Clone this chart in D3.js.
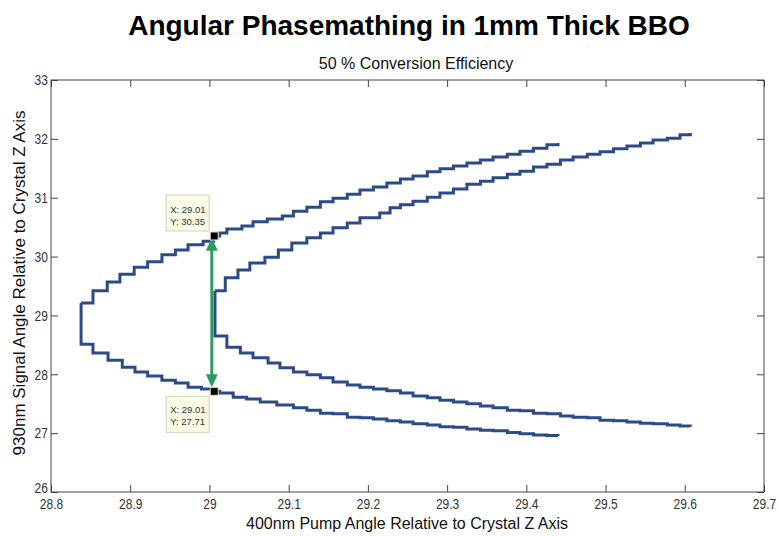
<!DOCTYPE html>
<html lang="en">
<meta charset="utf-8">
<style>
    html, body {
        margin: 0;
        padding: 0;
        background: #fff;
    }
    svg text {
        font-family: "Liberation Sans", Arial, sans-serif;
    }
    .tick-lbl text {
        font-family: "Liberation Sans", Arial, sans-serif;
        font-size: 15px;
        fill: #333;
    }
    .contour {
        fill: none;
        stroke: #2c4a88;
        stroke-width: 3px;
    }
</style>
<body>
<svg id="svg" width="780" height="536"></svg>
<script src="https://cdn.jsdelivr.net/npm/d3@7"></script>
<script>
    // tick labels
    var xTicks = [28.8, 28.9, 29, 29.1, 29.2, 29.3, 29.4, 29.5, 29.6, 29.7];
    var yTicks = [26, 27, 28, 29, 30, 31, 32, 33];

    // outer contour, upper branch (x, y)
    var outerUpper = [
        [28.838, 29.21], [28.853, 29.42], [28.871, 29.57], [28.887, 29.70], [28.905, 29.82],
        [28.922, 29.91], [28.940, 30.03], [28.957, 30.11], [28.973, 30.20], [28.992, 30.26],
        [29.005, 30.35], [29.013, 30.40], [29.022, 30.47], [29.041, 30.52], [29.055, 30.59],
        [29.073, 30.64], [29.092, 30.69], [29.106, 30.77], [29.123, 30.84], [29.140, 30.93],
        [29.156, 30.99], [29.174, 31.06], [29.190, 31.13], [29.207, 31.18], [29.224, 31.25],
        [29.241, 31.32], [29.257, 31.37], [29.275, 31.44], [29.291, 31.49], [29.308, 31.54],
        [29.325, 31.59], [29.342, 31.64], [29.358, 31.69], [29.376, 31.74], [29.392, 31.79],
        [29.409, 31.84], [29.426, 31.90], [29.440, 31.93]
    ];
    // outer contour, vertex + lower branch
    var outerLower = [
        [28.838, 29.21], [28.838, 28.51], [28.853, 28.36], [28.872, 28.24], [28.890, 28.12],
        [28.906, 28.04], [28.922, 27.97], [28.940, 27.90], [28.957, 27.85], [28.973, 27.78],
        [28.990, 27.75], [29.005, 27.71], [29.013, 27.68], [29.030, 27.61], [29.047, 27.58],
        [29.064, 27.53], [29.085, 27.48], [29.106, 27.43], [29.123, 27.39], [29.140, 27.34],
        [29.156, 27.33], [29.174, 27.27], [29.190, 27.26], [29.207, 27.24], [29.224, 27.21],
        [29.241, 27.19], [29.257, 27.16], [29.275, 27.14], [29.291, 27.11], [29.308, 27.10],
        [29.325, 27.07], [29.342, 27.05], [29.358, 27.04], [29.376, 27.01], [29.392, 26.99],
        [29.409, 26.97], [29.426, 26.96], [29.440, 26.95]
    ];
    // inner contour, upper branch
    var innerUpper = [
        [29.007, 29.42], [29.020, 29.64], [29.036, 29.77], [29.051, 29.89], [29.070, 29.99],
        [29.087, 30.11], [29.104, 30.23], [29.123, 30.32], [29.140, 30.40], [29.156, 30.49],
        [29.174, 30.57], [29.190, 30.66], [29.215, 30.74], [29.228, 30.83], [29.241, 30.88],
        [29.257, 30.94], [29.275, 31.01], [29.291, 31.08], [29.308, 31.15], [29.325, 31.23],
        [29.342, 31.28], [29.358, 31.34], [29.376, 31.40], [29.392, 31.45], [29.409, 31.52],
        [29.426, 31.57], [29.443, 31.64], [29.459, 31.69], [29.477, 31.74], [29.493, 31.78],
        [29.510, 31.83], [29.527, 31.88], [29.544, 31.93], [29.560, 31.98], [29.578, 32.01],
        [29.594, 32.07], [29.607, 32.10]
    ];
    // inner contour, vertex + lower branch
    var innerLower = [
        [29.007, 29.42], [29.007, 28.65], [29.022, 28.46], [29.039, 28.36], [29.055, 28.28],
        [29.074, 28.19], [29.089, 28.11], [29.106, 28.04], [29.123, 27.99], [29.140, 27.94],
        [29.156, 27.87], [29.174, 27.82], [29.190, 27.78], [29.207, 27.75], [29.224, 27.72],
        [29.241, 27.68], [29.257, 27.63], [29.275, 27.60], [29.291, 27.56], [29.308, 27.53],
        [29.325, 27.50], [29.342, 27.46], [29.358, 27.43], [29.376, 27.39], [29.392, 27.38],
        [29.409, 27.34], [29.426, 27.33], [29.443, 27.29], [29.459, 27.27], [29.477, 27.26],
        [29.493, 27.22], [29.510, 27.21], [29.527, 27.19], [29.544, 27.17], [29.560, 27.16],
        [29.578, 27.14], [29.594, 27.12], [29.607, 27.11]
    ];

    // data tips and the green double arrow
    var tips = [
        {x: 29.006, y: 30.35, above: true},
        {x: 29.006, y: 27.71, above: false}
    ];
    var arrowX = 29.003, arrowTop = 30.32, arrowBottom = 27.78;

    var svg = d3.select("svg"),
        margin = {top: 80, right: 16, bottom: 44, left: 51},
        width = +svg.attr("width") - margin.left - margin.right,
        height = +svg.attr("height") - margin.top - margin.bottom;

    var x = d3.scaleLinear().domain([28.8, 29.7]).range([margin.left, margin.left + width]);
    var y = d3.scaleLinear().domain([26, 33]).range([margin.top + height, margin.top]);

    var fmt = d => String(+d.toFixed(1));

    // box frame
    svg.append("rect")
        .attr("x", x(28.8)).attr("y", y(33))
        .attr("width", x(29.7) - x(28.8)).attr("height", y(26) - y(33))
        .attr("fill", "none").attr("stroke", "#444").attr("stroke-width", 1);

    svg.append("g")
        .attr("class", "tick-lbl")
        .attr("transform", `translate(0,${y(26)})`)
        .call(d3.axisBottom(x).tickValues(xTicks).tickFormat(fmt).tickSizeInner(-7).tickSizeOuter(0).tickPadding(6))
        .call(g => g.select(".domain").remove())
        .call(g => g.selectAll(".tick line").attr("stroke", "#444"))
        .call(g => g.selectAll(".tick text").attr("transform", "scale(0.8,1)"));

    svg.append("g")
        .attr("transform", `translate(0,${y(33)})`)
        .call(d3.axisTop(x).tickValues(xTicks).tickFormat("").tickSizeInner(-7).tickSizeOuter(0))
        .call(g => g.select(".domain").remove())
        .call(g => g.selectAll(".tick line").attr("stroke", "#444"));

    svg.append("g")
        .attr("class", "tick-lbl")
        .attr("transform", `translate(${x(28.8)},0)`)
        .call(d3.axisLeft(y).tickValues(yTicks).tickFormat(fmt).tickSizeInner(-7).tickSizeOuter(0).tickPadding(4))
        .call(g => g.select(".domain").remove())
        .call(g => g.selectAll(".tick line").attr("stroke", "#444"))
        .call(g => g.selectAll(".tick text").attr("transform", "scale(0.8,1)"))
        .call(g => g.selectAll(".tick").filter(d => d === 26).select("text").attr("y", -4));

    svg.append("g")
        .attr("transform", `translate(${x(29.7)},0)`)
        .call(d3.axisRight(y).tickValues(yTicks).tickFormat("").tickSizeInner(-7).tickSizeOuter(0))
        .call(g => g.select(".domain").remove())
        .call(g => g.selectAll(".tick line").attr("stroke", "#444"));

    // contour lines (stair-stepped)
    var line = d3.line()
        .x(d => x(d[0]))
        .y(d => y(d[1]))
        .curve(d3.curveStepAfter);

    svg.append("g")
        .selectAll("path")
        .data([outerUpper, outerLower, innerUpper, innerLower])
        .enter().append("path")
            .attr("class", "contour")
            .attr("d", line);

    // green double arrow
    var green = "#2f9a5f";
    var ax = x(arrowX), ay1 = y(arrowTop), ay2 = y(arrowBottom);
    svg.append("line")
        .attr("x1", ax).attr("x2", ax)
        .attr("y1", ay1 + 10).attr("y2", ay2 - 10)
        .attr("stroke", green).attr("stroke-width", 3);
    svg.append("path")
        .attr("d", `M${ax},${ay1} L${ax - 6},${ay1 + 13} L${ax + 6},${ay1 + 13} Z`)
        .attr("fill", green);
    svg.append("path")
        .attr("d", `M${ax},${ay2} L${ax - 6},${ay2 - 13} L${ax + 6},${ay2 - 13} Z`)
        .attr("fill", green);

    // data tips
    var f2 = d3.format(".2f");
    var tip = svg.append("g").selectAll("g").data(tips).enter().append("g")
        .attr("transform", d => `translate(${x(d.x)},${y(d.y)})`);

    tip.append("rect")
        .attr("x", -48)
        .attr("y", d => d.above ? -41 : 5)
        .attr("width", 43).attr("height", 36)
        .attr("fill", "#fbfbe6").attr("stroke", "#d2d2c2");

    tip.append("text")
        .attr("x", -44)
        .attr("y", d => d.above ? -23 : 22)
        .attr("font-size", "9.5px").attr("fill", "#333")
        .text(d => "X: " + f2(d.x));
    tip.append("text")
        .attr("x", -44)
        .attr("y", d => d.above ? -11 : 34)
        .attr("font-size", "9.5px").attr("fill", "#333")
        .text(d => "Y: " + f2(d.y));

    tip.append("rect")
        .attr("x", -4).attr("y", -4)
        .attr("width", 8).attr("height", 8)
        .attr("fill", "#000").attr("stroke", "#e8e4b8").attr("stroke-width", 1);

    // titles
    svg.append("text")
        .attr("x", 409).attr("y", 35)
        .attr("text-anchor", "middle")
        .attr("font-size", "28px").attr("font-weight", "bold").attr("fill", "#000")
        .text("Angular Phasemathing in 1mm Thick BBO");

    svg.append("text")
        .attr("x", 416).attr("y", 69)
        .attr("text-anchor", "middle")
        .attr("font-size", "16px").attr("fill", "#111")
        .text("50 % Conversion Efficiency");

    svg.append("text")
        .attr("x", 407).attr("y", 529)
        .attr("text-anchor", "middle")
        .attr("font-size", "16px").attr("fill", "#111")
        .text("400nm Pump Angle Relative to Crystal Z Axis");

    svg.append("text")
        .attr("transform", "translate(25,283) rotate(-90)")
        .attr("text-anchor", "middle")
        .attr("font-size", "17px").attr("fill", "#111")
        .text("930nm Signal Angle Relative to Crystal Z Axis");
</script>
</body>
</html>
